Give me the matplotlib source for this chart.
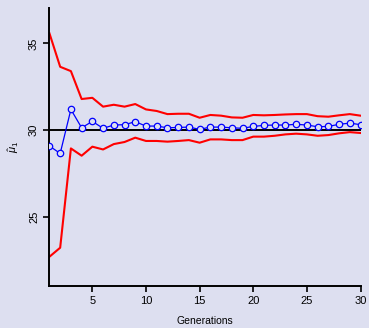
import numpy as np
import matplotlib
matplotlib.use('Agg')
import matplotlib.pyplot as plt

plt.rcParams['font.family'] = ['Liberation Sans', 'DejaVu Sans']
plt.rcParams['mathtext.fontset'] = 'custom'
plt.rcParams['mathtext.rm'] = 'Liberation Sans'
plt.rcParams['mathtext.it'] = 'Liberation Sans:italic'

generations = np.arange(1, 31)

# mean estimate per generation
mu_hat = [29.08, 28.65, 31.19, 30.13, 30.50, 30.10, 30.29, 30.31, 30.48, 30.23,
          30.23, 30.13, 30.15, 30.17, 30.04, 30.17, 30.17, 30.13, 30.10, 30.21,
          30.27, 30.29, 30.29, 30.33, 30.29, 30.19, 30.21, 30.33, 30.40, 30.31]

# upper / lower bands
upper = [35.58, 33.65, 33.40, 31.79, 31.86, 31.35, 31.46, 31.35, 31.50, 31.19,
         31.10, 30.92, 30.94, 30.94, 30.71, 30.87, 30.83, 30.73, 30.71, 30.87,
         30.85, 30.87, 30.90, 30.92, 30.92, 30.80, 30.77, 30.85, 30.92, 30.83]
lower = [22.69, 23.21, 28.94, 28.52, 29.04, 28.88, 29.19, 29.31, 29.56, 29.37,
         29.37, 29.33, 29.37, 29.42, 29.27, 29.46, 29.46, 29.42, 29.42, 29.62,
         29.62, 29.67, 29.75, 29.79, 29.75, 29.67, 29.71, 29.81, 29.88, 29.83]

true_mu = 30
bg = '#dddff0'

fig = plt.figure(figsize=(3.69, 3.28), dpi=100, facecolor=bg)
ax = fig.add_axes([0.134, 0.128, 0.843, 0.848], facecolor=bg)

ax.axhline(true_mu, color='black', lw=1.4, zorder=1)
ax.plot(generations, upper, color='red', lw=1.5, zorder=2)
ax.plot(generations, lower, color='red', lw=1.5, zorder=2)
ax.plot(generations, mu_hat, color='blue', lw=0.9, marker='o', ms=4.6,
        mfc=bg, mec='blue', mew=0.9, zorder=3)

ax.set_xlim(1, 30)
ax.set_ylim(21, 37.05)
ax.set_xticks([5, 10, 15, 20, 25, 30])
ax.set_yticks([25, 30, 35])
for s in ['top', 'right']:
    ax.spines[s].set_visible(False)
for s in ['left', 'bottom']:
    ax.spines[s].set_linewidth(1.4)
ax.tick_params(direction='out', length=4, width=1.2, labelsize=8)
for lab in ax.get_yticklabels():
    lab.set_rotation(90)
    lab.set_va('center')
ax.set_xlabel('Generations', fontsize=7.5, labelpad=7)
ax.set_ylabel(r'$\hat{\mu}_1$', fontsize=8, labelpad=6)

fig.savefig('out.png', dpi=100, facecolor=bg)
